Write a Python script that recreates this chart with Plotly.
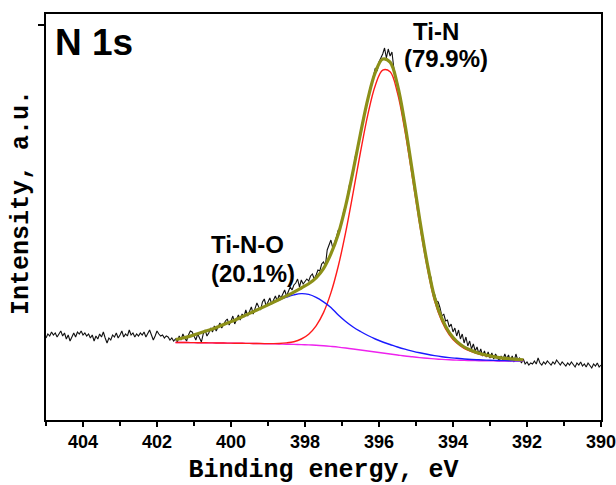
import numpy as np
import plotly.graph_objects as go

# ---------------- data ----------------
# measured spectrum, binding energy 405.00 -> 390.00 eV in 0.05 eV steps
raw_left = [82, 86, 84, 88, 85, 87, 83, 86, 89, 84, 87, 81, 85, 79, 84, 87, 83, 88, 86, 89,
            85, 87, 84, 86, 82, 85, 79, 84, 81, 86, 83, 88, 82, 77, 82, 80, 85, 83, 87, 82,
            85, 89, 83, 86, 84, 90, 85, 87, 83, 86, 84, 87, 85, 88, 83, 86, 90, 85, 80, 84,
            89, 86, 84, 85, 82, 84, 83, 80, 82, 79]
raw_mid = [81, 78, 84, 80, 86, 82, 79, 85, 89, 88, 83, 80, 86, 82, 78, 86, 90, 84, 87, 92,
           88, 94, 89, 93, 97, 92, 96, 99, 101, 95, 99, 104, 96, 101, 105, 100, 106, 103, 110, 104,
           109, 113, 106, 112, 117, 113, 110, 118, 121, 114, 118, 122, 116, 121, 124, 119, 125, 122, 127, 130,
           124, 129, 133, 130, 135, 137, 141, 133, 140, 136, 138, 141, 139, 144, 146, 141, 145, 150, 149, 156,
           158, 154, 170, 176, 180, 172, 177, 183, 190, 192, 198, 210, 213, 226, 235, 238, 247, 262, 270, 279,
           284, 297, 307, 314, 320, 331, 336, 344, 352, 349, 358, 362, 366, 372, 362, 371, 364, 368, 352, 343,
           337, 323, 317, 304, 298, 286, 270, 262, 250, 235, 227, 210, 203, 188, 181, 166, 160, 147, 143, 130,
           126, 119, 118, 112, 104, 106, 99, 100, 93, 96, 88, 92, 84, 90, 81, 86, 77, 83, 74, 79,
           71, 76, 69, 73, 66, 71, 64, 69, 63, 68, 62, 67, 61, 66, 63, 59, 64, 60, 66, 61,
           65, 59, 64, 58, 66, 60, 62, 57, 61]
raw_right = [56, 58, 55, 57, 56, 59, 56, 62, 57, 55, 58, 56, 59, 57, 55, 58, 56, 60, 57, 55,
             58, 56, 54, 57, 55, 58, 56, 53, 57, 55, 58, 54, 56, 53, 57, 55, 52, 56, 54, 57,
             53, 55]

# fitted curves, 401.5 -> 392.1 eV in 0.2 eV steps
background = [77.5, 77.5, 77.4, 77.3, 77.2, 77.1, 77.0, 76.9, 76.8, 76.7, 76.6, 76.5, 76.3, 76.2, 76.0, 75.8,
              75.6, 75.4, 75.1, 74.7, 74.2, 73.6, 72.9, 72.0, 71.0, 70.0, 69.0, 68.0, 67.0, 66.0, 65.0, 64.0,
              63.2, 62.4, 61.7, 61.1, 60.6, 60.2, 59.9, 59.6, 59.4, 59.3, 59.2, 59.1, 59.0, 59.0, 59.0, 59.0]
peak_tin = [77.5, 77.5, 77.4, 77.3, 77.2, 77.1, 77.0, 76.9, 76.8, 76.7, 76.6, 76.5, 76.4, 76.4, 76.5, 77.1,
            78.3, 81.0, 85.8, 94.2, 107.4, 127.1, 154.0, 187.9, 227.1, 268.0, 305.7, 334.6, 349.9, 348.3, 326.9, 289.4,
            243.2, 195.7, 153.3, 119.5, 98.6, 85.2, 76.9, 71.6, 68.4, 65.8, 64.2, 62.9, 61.8, 61.0, 60.5, 60.0]
peak_tino = [80.5, 82.0, 83.9, 86.3, 88.7, 91.1, 94.0, 96.9, 99.8, 103.2, 106.6, 110.0, 113.3, 116.7, 120.0, 122.8,
             125.1, 126.4, 125.6, 122.7, 118.2, 112.6, 104.9, 98.5, 93.0, 88.5, 84.5, 81.0, 78.0, 75.5, 73.0, 70.8,
             68.9, 67.2, 65.7, 64.4, 63.3, 62.4, 61.7, 61.0, 60.5, 60.2, 59.9, 59.6, 59.4, 59.3, 59.2, 59.1]
envelope = [80.5, 82.0, 83.9, 86.3, 88.7, 91.1, 94.0, 96.9, 99.8, 103.2, 106.6, 110.0, 113.4, 116.9, 120.5, 124.1,
            127.8, 132.0, 136.3, 142.2, 151.4, 166.1, 186.0, 214.4, 249.1, 286.5, 321.2, 347.6, 360.9, 357.8, 334.9, 296.2,
            248.9, 200.5, 157.3, 122.8, 101.3, 87.4, 78.7, 73.0, 69.5, 66.7, 64.9, 63.4, 62.2, 61.3, 60.7, 60.1]

x_ticks = [404, 402, 400, 398, 396, 394, 392, 390]
panel_label = "N 1s"
peak_names = ["Ti-N", "(79.9%)", "Ti-N-O", "(20.1%)"]

# ---------------- sampling grids ----------------
e_raw = np.concatenate([
    np.linspace(405.0, 401.55, len(raw_left)),
    np.linspace(401.5, 392.1, len(raw_mid)),
    np.linspace(392.05, 390.0, len(raw_right)),
])
raw = raw_left + raw_mid + raw_right
e_fit = np.linspace(401.5, 392.1, len(envelope))

fig = go.Figure()
fig.add_trace(go.Scatter(x=e_raw, y=raw, mode="lines",
                         line=dict(color="#111111", width=1.1)))
fig.add_trace(go.Scatter(x=e_fit, y=background, mode="lines", line_shape="spline",
                         line=dict(color="#ee22ee", width=1.4)))
fig.add_trace(go.Scatter(x=e_fit, y=peak_tin, mode="lines", line_shape="spline",
                         line=dict(color="#ff1a1a", width=1.4)))
fig.add_trace(go.Scatter(x=e_fit, y=peak_tino, mode="lines", line_shape="spline",
                         line=dict(color="#1a1aff", width=1.4)))
fig.add_trace(go.Scatter(x=e_fit, y=envelope, mode="lines", line_shape="spline",
                         line=dict(color="#8c9018", width=3.2)))

label_font = dict(family="Liberation Sans", size=24, color="black", weight="bold")
fig.add_annotation(text=panel_label, xref="paper", yref="paper", x=0.012, y=0.985,
                   xanchor="left", yanchor="top", showarrow=False,
                   font=dict(family="Liberation Sans", size=37, color="black", weight="bold"))
fig.add_annotation(text=peak_names[0], x=394.45, y=389, showarrow=False, font=label_font)
fig.add_annotation(text=peak_names[1], x=394.2, y=362, showarrow=False, font=label_font)
fig.add_annotation(text=peak_names[2], x=399.55, y=176, showarrow=False, font=label_font)
fig.add_annotation(text=peak_names[3], x=399.4, y=147, showarrow=False, font=label_font)
fig.add_annotation(text="Intensity, a.u.", xref="paper", yref="paper", x=-0.043, y=0.535,
                   xanchor="center", yanchor="middle", textangle=-90, showarrow=False,
                   font=dict(family="Liberation Mono", size=25, color="black", weight="bold"))

fig.update_layout(
    width=616, height=485,
    margin=dict(l=46, r=15, t=14, b=65),
    paper_bgcolor="white", plot_bgcolor="white",
    showlegend=False,
)
fig.update_xaxes(
    range=[405, 390], tickvals=x_ticks, ticktext=[str(v) for v in x_ticks],
    automargin=False, ticklabeloverflow="allow",
    ticks="outside", ticklen=5, tickwidth=1.5, tickcolor="black",
    ticklabelstandoff=0,
    minor=dict(dtick=1, ticks="outside", ticklen=4, tickwidth=1.5, tickcolor="black"),
    showline=True, linewidth=1.5, linecolor="black", mirror=True,
    showgrid=False, zeroline=False,
    tickfont=dict(family="Liberation Sans", size=18, color="black", weight="bold"),
    title=dict(text="Binding energy, eV", standoff=33,
               font=dict(family="Liberation Mono", size=25, color="black", weight="bold")),
)
fig.update_yaxes(
    range=[0, 406], tickvals=[395], ticktext=[""], automargin=False,
    ticks="outside", ticklen=6, tickwidth=1.5, tickcolor="black",
    showline=True, linewidth=1.5, linecolor="black", mirror=True,
    showgrid=False, zeroline=False,
)

fig.write_html("out.html")
